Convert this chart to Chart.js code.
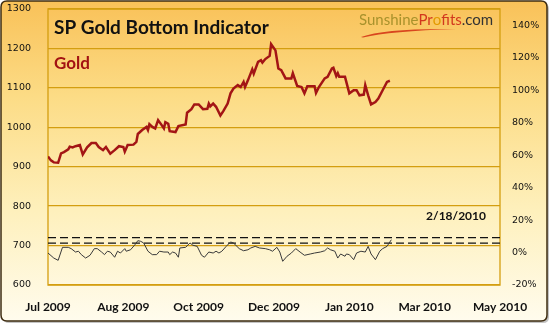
<!DOCTYPE html>
<html>
<head>
<meta charset="utf-8">
<script src="https://cdn.jsdelivr.net/npm/chart.js@4.4.1/dist/chart.umd.min.js"></script>
<style>
  html, body { margin: 0; padding: 0; background: #ffffff; }
  #wrap { width: 550px; height: 324px; }
</style>
</head>
<body>
<div id="wrap"><canvas id="c" width="550" height="324"></canvas></div>
<script>
// ---- data (days counted from 1 Jul 2009) ----
const xTickLabels = ['Jul 2009', 'Aug 2009', 'Oct 2009', 'Dec 2009', 'Jan 2010', 'Mar 2010', 'May 2010'];
const leftTicks = [600, 700, 800, 900, 1000, 1100, 1200, 1300];
const rightTicks = [-20, 0, 20, 40, 60, 80, 100, 120, 140];

const goldDays = [0,2,4,7,9,11,14,15,17,19,22,24,27,30,33,35,38,40,43,46,49,52,53,55,59,61,62,65,68,69,70,72,74,76,78,80,81,83,84,88,90,95,96,99,101,104,107,110,111,112,114,116,119,121,124,126,128,131,133,135,136,138,141,142,145,147,148,150,153,154,157,159,161,164,168,169,172,175,177,179,184,185,187,191,193,196,197,199,200,201,205,208,211,213,215,218,219,221,223,226,228,231,234,236];
const goldPrices = [926,916,911,910,934,937,944,951,949,952,955,931,949,960,960,950,942,950,933,942,952,950,938,955,956,963,983,993,1001,993,1008,1001,997,1018,1008,997,1013,1009,990,988,1003,1007,1037,1046,1058,1058,1046,1047,1060,1053,1060,1052,1030,1041,1060,1086,1098,1107,1102,1115,1102,1119,1147,1136,1166,1170,1164,1173,1181,1211,1195,1149,1145,1124,1124,1137,1105,1102,1086,1104,1104,1087,1102,1124,1128,1149,1151,1130,1137,1128,1128,1086,1094,1094,1081,1083,1107,1081,1058,1064,1073,1094,1115,1118];

const indicatorDays = [0,4,7,10,14,16,19,21,23,26,29,32,34,37,39,41,43,46,48,50,53,54,57,60,62,64,66,69,72,75,77,80,83,84,86,88,90,91,95,98,100,103,106,108,111,114,116,118,120,123,126,128,132,135,138,140,143,146,150,153,155,158,160,162,165,168,171,174,177,181,184,188,191,193,195,198,200,202,205,206,208,211,213,216,219,221,223,226,229,231,234,235,237];
const indicatorValues = [-0.3,-3.4,-4.8,3.2,3.2,2.4,0.3,0.8,-1.3,-3.4,-1.7,2.4,2.4,0.3,-1.3,0.8,0.3,-2.9,0.8,-0.3,2.4,0.8,1.7,4.8,7.3,6.9,5.9,0.8,-1.3,-1.3,0.8,0.3,0.3,-1.3,0.3,-0.3,-2.9,2.8,3.2,5.9,4.5,3.8,-1.7,-2.9,0.3,-0.3,0.8,-0.3,0.8,3.8,6.5,5.9,2.4,1.1,1.7,2.8,3.8,2.8,2.4,1.7,0.8,3.2,0.3,-5.4,-2.3,-0.3,2.4,0.3,-1.7,-0.9,-0.3,0.3,1.1,2.8,1.7,0.8,-3.4,-0.9,-2.3,-0.9,-1.3,-4.4,-0.3,0.8,0.3,3.8,-0.9,-4.4,0.8,2.4,3.8,5.2,7.9];

const upperLevel = 9.2;   // dashed threshold lines (%)
const lowerLevel = 5.8;
const levelSpanDays = [0, 312];

const titleText = 'SP Gold Bottom Indicator';
const seriesText = 'Gold';
const dateText = '2/18/2010';

// ---- styles ----
const GRID = '#D49E10';
const GOLD_LINE = '#A31515';

function toXY(xs, ys) { return xs.map((x, i) => ({ x: x, y: ys[i] })); }

function roundRect(ctx, x, y, w, h, r) {
  ctx.beginPath();
  ctx.moveTo(x + r, y);
  ctx.lineTo(x + w - r, y);
  ctx.quadraticCurveTo(x + w, y, x + w, y + r);
  ctx.lineTo(x + w, y + h - r);
  ctx.quadraticCurveTo(x + w, y + h, x + w - r, y + h);
  ctx.lineTo(x + r, y + h);
  ctx.quadraticCurveTo(x, y + h, x, y + h - r);
  ctx.lineTo(x, y + r);
  ctx.quadraticCurveTo(x, y, x + r, y);
  ctx.closePath();
}

const bgPlugin = {
  id: 'bg',
  beforeDraw(chart) {
    const ctx = chart.ctx;
    const a = chart.chartArea;
    ctx.save();
    ctx.fillStyle = '#c4c4c4';
    roundRect(ctx, 3, 3, 546, 320, 6);
    ctx.fill();
    const g = ctx.createLinearGradient(0, 0, 0, 324);
    g.addColorStop(0, '#F9C158');
    g.addColorStop(0.3, '#FCDC86');
    g.addColorStop(0.65, '#FEF0BC');
    g.addColorStop(1, '#FFFCEF');
    ctx.fillStyle = g;
    roundRect(ctx, 1, 1, 546, 320, 6);
    ctx.fill();
    ctx.lineWidth = 1.5;
    ctx.strokeStyle = '#3E2C10';
    ctx.stroke();
    ctx.beginPath();
    ctx.strokeStyle = GRID;
    ctx.lineWidth = 1.3;
    ctx.rect(a.left, a.top, a.right - a.left, a.bottom - a.top);
    ctx.stroke();
    ctx.restore();
  },
  afterDraw(chart) {
    const ctx = chart.ctx;
    const a = chart.chartArea;
    ctx.save();
    ctx.textBaseline = 'alphabetic';
    ctx.textAlign = 'left';
    ctx.fillStyle = '#111111';
    ctx.font = 'bold 19px Lato';
    ctx.fillText(titleText, a.left + 6, 34);
    ctx.fillStyle = '#A31212';
    ctx.font = 'bold 17px Lato';
    ctx.fillText(seriesText, a.left + 6, 69);
    ctx.fillStyle = '#111111';
    ctx.font = 'bold 12px Lato';
    ctx.textAlign = 'right';
    ctx.fillText(dateText, a.right - 14, 220);
    ctx.textAlign = 'left';
    ctx.font = '15px Lato';
    let x = 359;
    const y = 25;
    const parts = [
      ['Sunshine', '#A8922C'],
      ['Pr', '#D2381E'],
      ['o', '#E39A00'],
      ['fits', '#D2381E'],
      ['.com', '#333333']
    ];
    parts.forEach(p => {
      ctx.fillStyle = p[1];
      ctx.fillText(p[0], x, y);
      x += ctx.measureText(p[0]).width;
    });
    ctx.fillStyle = '#D8461E';
    ctx.beginPath();
    ctx.moveTo(361, 37);
    ctx.quadraticCurveTo(385, 28, 456, 29);
    ctx.quadraticCurveTo(390, 31, 363, 37.5);
    ctx.closePath();
    ctx.fill();
    ctx.restore();
  }
};

new Chart(document.getElementById('c'), {
  type: 'line',
  data: {
    datasets: [
      { label: 'Gold', data: toXY(goldDays, goldPrices), yAxisID: 'y', borderColor: GOLD_LINE, borderWidth: 2.5, pointRadius: 0, tension: 0 },
      { label: 'Indicator', data: toXY(indicatorDays, indicatorValues), yAxisID: 'y1', borderColor: '#3a3a3a', borderWidth: 1, pointRadius: 0, tension: 0 },
      { label: 'Upper', data: toXY(levelSpanDays, [upperLevel, upperLevel]), yAxisID: 'y1', borderColor: '#111111', borderWidth: 1.3, borderDash: [8, 4], pointRadius: 0 },
      { label: 'Lower', data: toXY(levelSpanDays, [lowerLevel, lowerLevel]), yAxisID: 'y1', borderColor: '#111111', borderWidth: 1.3, borderDash: [8, 4], pointRadius: 0 }
    ]
  },
  options: {
    responsive: false,
    animation: false,
    layout: { padding: { top: 9 } },
    plugins: { legend: { display: false }, tooltip: { enabled: false } },
    scales: {
      x: {
        type: 'linear', min: 0, max: 312,
        grid: { display: false, drawTicks: false },
        border: { display: false },
        ticks: {
          stepSize: 52, maxRotation: 0, padding: 15, color: '#111111', z: 1,
          font: { family: 'Lato', size: 12, weight: 'bold' },
          callback: (v, i) => xTickLabels[i]
        },
        afterFit: s => { s.height = 39; }
      },
      y: {
        min: 600, max: 1300,
        grid: { color: GRID, lineWidth: 1.3, drawTicks: false },
        border: { display: false },
        afterBuildTicks: s => { s.ticks = leftTicks.map(v => ({ value: v })); },
        ticks: { padding: 17, color: '#111', z: 1, font: { family: 'DejaVu Sans', size: 9.5 }, callback: v => String(v) },
        afterFit: s => { s.width = 48; s.paddingTop = 0; s.paddingBottom = 0; }
      },
      y1: {
        position: 'right', min: -20, max: 150,
        grid: { display: false, drawTicks: false },
        border: { display: false },
        afterBuildTicks: s => { s.ticks = rightTicks.map(v => ({ value: v })); },
        ticks: { padding: 12, color: '#111', z: 1, font: { family: 'DejaVu Sans', size: 9.5 }, callback: v => v + '%' },
        afterFit: s => { s.width = 50; s.paddingTop = 0; s.paddingBottom = 0; }
      }
    }
  },
  plugins: [bgPlugin]
});
</script>
</body>
</html>
